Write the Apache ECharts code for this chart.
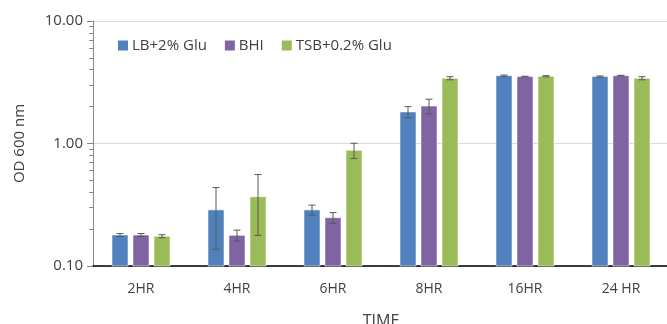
<!DOCTYPE html>
<html><head><meta charset="utf-8">
<script src="https://cdn.jsdelivr.net/npm/echarts@6/dist/echarts.min.js"></script>
<style>html,body{margin:0;padding:0;background:#fff}#c{width:667px;height:324px}</style>
</head><body><div id="c"></div>
<script>
const categories = ['2HR', '4HR', '6HR', '8HR', '16HR', '24 HR'];
const seriesNames = ['LB+2% Glu', 'BHI', 'TSB+0.2% Glu'];
const lbGlu = [0.179, 0.287, 0.287, 1.81, 3.58, 3.52];
const bhi = [0.179, 0.178, 0.248, 2.02, 3.52, 3.58];
const tsbGlu = [0.175, 0.368, 0.88, 3.41, 3.54, 3.41];
const lbGluErr = [0.005, 0.15, 0.027, 0.19, 0.04, 0.04];
const bhiErr = [0.005, 0.018, 0.025, 0.28, 0.02, 0.02];
const tsbGluErr = [0.005, 0.19, 0.125, 0.1, 0.04, 0.1];
const yTickLabels = ['0.10', '1.00', '10.00'];
const minorTickValues = [0.2,0.3,0.4,0.5,0.6,0.7,0.8,0.9,2,3,4,5,6,7,8,9];
const yMin = 0.1, yMax = 10;

const colors = ['#4F81BD', '#8064A2', '#9BBB59'];
const values = [lbGlu, bhi, tsbGlu];
const errs = [lbGluErr, bhiErr, tsbGluErr];
const font = 'Open Sans';
const barW = 16, gap = 5;

const chart = echarts.init(document.getElementById('c'), null, {renderer: 'canvas'});
const series = [];
values.forEach((v, i) => {
  series.push({
    name: seriesNames[i], type: 'custom', yAxisIndex: 0,
    itemStyle: {color: colors[i]},
    data: v.map((val, k) => [k, val]),
    encode: {x: 0, y: 1},
    renderItem: function (params, api) {
      const off = (i - 1) * (barW + gap);
      const top = api.coord([api.value(0), api.value(1)]);
      const base = api.coord([api.value(0), yMin]);
      const x = top[0] + off - barW / 2;
      return {type: 'rect', shape: {x: x, y: top[1], width: barW, height: base[1] - top[1]},
        style: {fill: colors[i], stroke: 'rgba(255,255,255,0.55)', lineWidth: 1}};
    }
  });
});
values.forEach((v, i) => {
  series.push({
    type: 'custom', yAxisIndex: 0, z: 10, silent: true,
    data: v.map((val, k) => [k, val - errs[i][k], val + errs[i][k]]),
    encode: {x: 0, y: [1, 2]},
    renderItem: function (params, api) {
      const off = (i - 1) * (barW + gap);
      const lo = api.coord([api.value(0), api.value(1)]);
      const hi = api.coord([api.value(0), api.value(2)]);
      const x = lo[0] + off;
      const cap = 3.5;
      const st = {stroke: '#595959', lineWidth: 1};
      return {type: 'group', children: [
        {type: 'line', shape: {x1: x, y1: lo[1], x2: x, y2: hi[1]}, style: st},
        {type: 'line', shape: {x1: x - cap, y1: lo[1], x2: x + cap, y2: lo[1]}, style: st},
        {type: 'line', shape: {x1: x - cap, y1: hi[1], x2: x + cap, y2: hi[1]}, style: st}
      ]};
    }
  });
});

chart.setOption({
  animation: false,
  textStyle: {fontFamily: font},
  grid: {left: 93, right: -2, top: 21, bottom: 58, containLabel: false, outerBoundsMode: 'none'},
  legend: {
    data: seriesNames, left: 113, top: 33, itemWidth: 10, itemHeight: 10, itemGap: 18,
    icon: 'rect', textStyle: {fontFamily: font, fontSize: 15, color: '#404040', padding: [0, 0, 0, -1]}
  },
  xAxis: {
    type: 'category', data: categories, name: 'TIME', nameLocation: 'middle', nameGap: 47,
    nameTextStyle: {fontSize: 16, color: '#404040', fontFamily: font},
    axisLine: {lineStyle: {color: '#000', width: 1.5}},
    axisTick: {show: false},
    axisLabel: {fontSize: 14, color: '#404040', margin: 16, fontFamily: font}
  },
  yAxis: [{
    type: 'log', logBase: 10, min: yMin, max: yMax,
    name: 'OD 600 nm', nameLocation: 'middle', nameGap: 66, nameRotate: 90,
    nameTextStyle: {fontSize: 15, color: '#404040', fontFamily: font},
    axisLine: {show: true, lineStyle: {color: '#868686'}},
    axisTick: {show: true, length: 6, lineStyle: {color: '#868686'}},
    splitLine: {lineStyle: {color: '#d9d9d9'}},
    axisLabel: {fontSize: 15, color: '#404040', margin: 10, fontFamily: font,
      formatter: function (v) { const idx = Math.round(Math.log10(v) + 1); return yTickLabels[idx] || ''; }}
  }, {
    type: 'log', logBase: 10, min: yMin, max: yMax, position: 'left', offset: 0,
    axisLine: {show: false}, splitLine: {show: false},
    axisLabel: {show: false},
    axisTick: {show: true, length: 4, customValues: minorTickValues, lineStyle: {color: '#868686'}}
  }],
  series: series
});
</script></body></html>
